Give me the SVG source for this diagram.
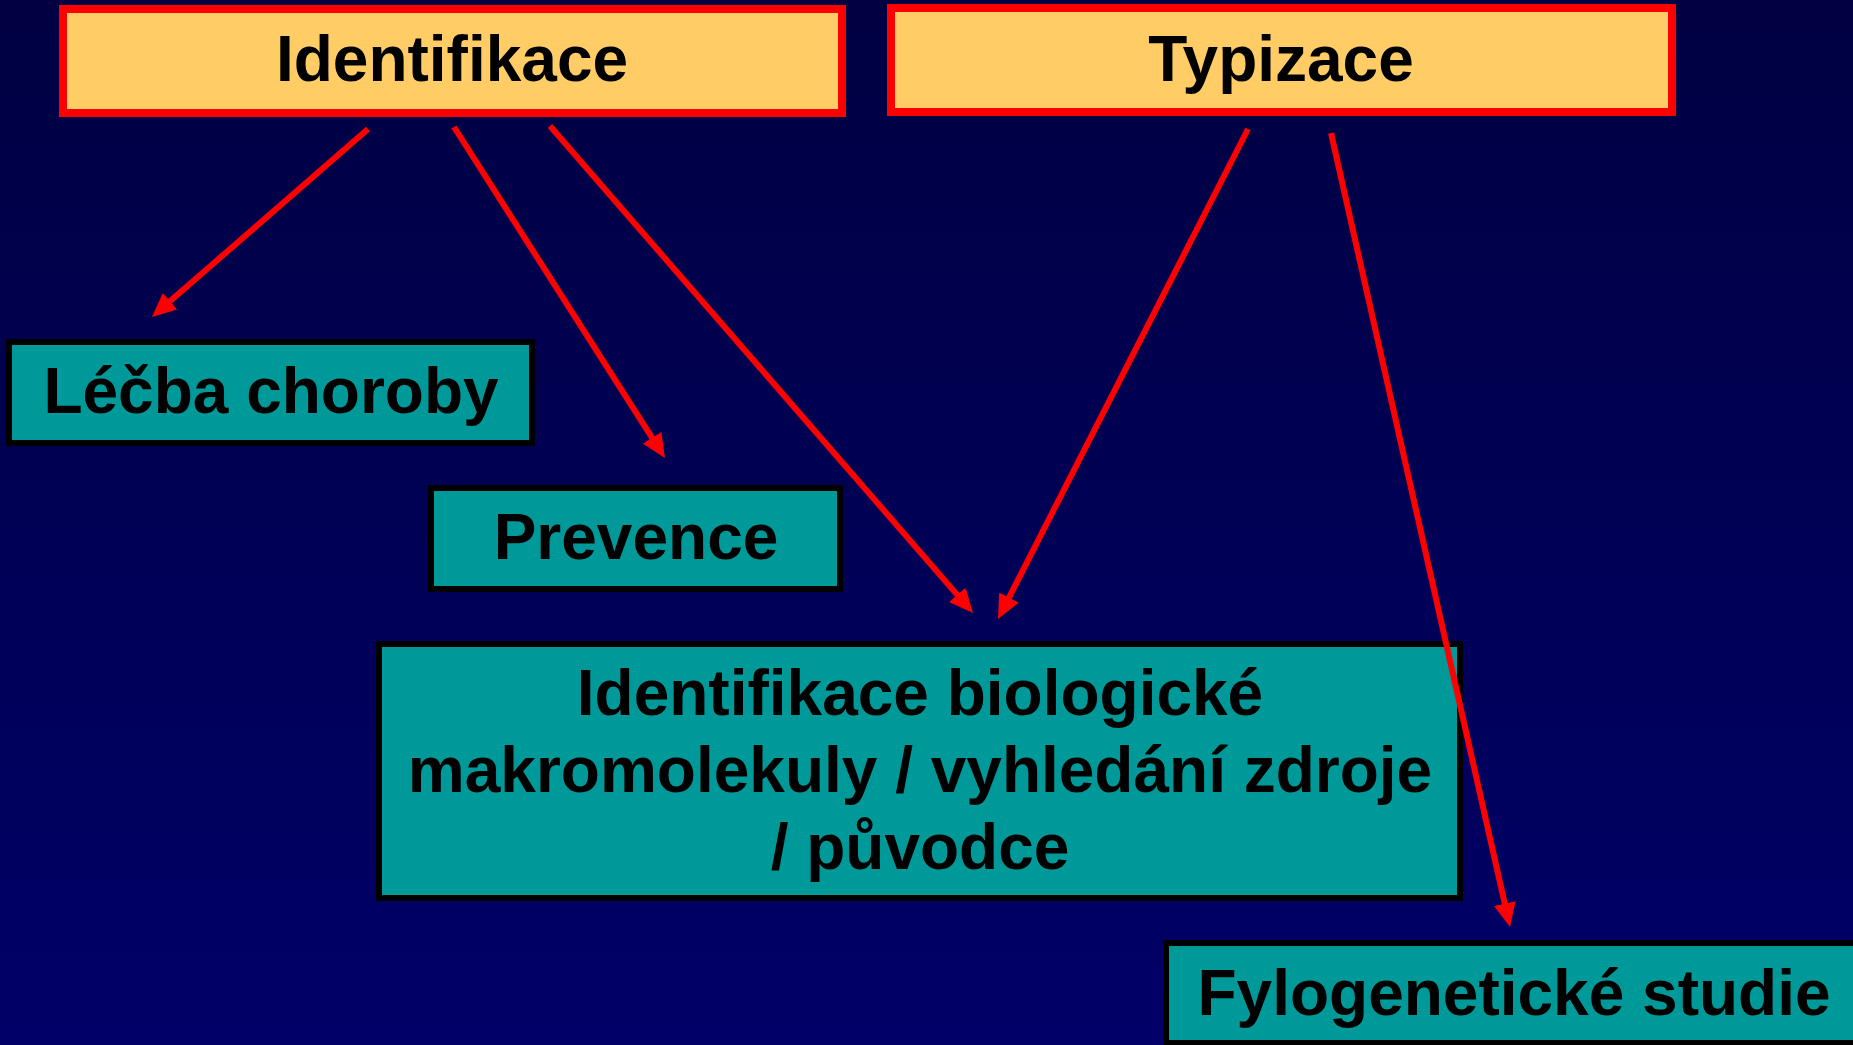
<svg xmlns="http://www.w3.org/2000/svg" width="1853" height="1045" viewBox="0 0 1853 1045">
<defs>
<linearGradient id="bg" x1="0" y1="0" x2="0" y2="1">
<stop offset="0" stop-color="#000042"/>
<stop offset="1" stop-color="#000068"/>
</linearGradient>
<marker id="ah" viewBox="0 0 24 22" markerWidth="24" markerHeight="22" markerUnits="userSpaceOnUse" refX="12" refY="11" orient="auto">
<path d="M0,0 L24,11 L0,22 z" fill="#FF0000"/>
</marker>
<style>
.top{fill:#FFCC66;stroke:#FF0000;stroke-width:8}
.leaf{fill:#009999;stroke:#000000;stroke-width:6}
text{font-family:"Liberation Sans",Arial,sans-serif;font-weight:bold;font-size:64px;fill:#000000;text-anchor:middle}
.conn{stroke:#FF0000;stroke-width:6;fill:none;marker-end:url(#ah)}
</style>
</defs>
<rect x="0" y="0" width="1853" height="1045" fill="url(#bg)"/>
<g id="identifikace"><rect class="top" x="63" y="9" width="779" height="104"/><text x="452" y="81">Identifikace</text></g>
<g id="typizace"><rect class="top" x="891" y="8" width="781" height="104"/><text x="1281" y="81">Typizace</text></g>
<g id="lecba"><rect class="leaf" x="9" y="342" width="523" height="101"/><text x="271" y="413">Léčba choroby</text></g>
<g id="prevence"><rect class="leaf" x="431" y="488" width="409" height="101"/><text x="636" y="559">Prevence</text></g>
<g id="identifikace-bio"><rect class="leaf" x="379" y="644" width="1081" height="254"/><text x="920" y="715">Identifikace biologické</text><text x="920" y="792">makromolekuly / vyhledání zdroje</text><text x="920" y="869">/ původce</text></g>
<g id="fylogeneticke"><rect class="leaf" x="1166" y="943" width="700" height="100"/><text x="1514" y="1015">Fylogenetické studie</text></g>
<g id="connectors">
<line class="conn" x1="368" y1="129" x2="161" y2="309.1"/>
<line class="conn" x1="454" y1="127" x2="658.5" y2="447.9"/>
<line class="conn" x1="550" y1="126" x2="965.1" y2="603.9"/>
<line class="conn" x1="1248" y1="129" x2="1003.5" y2="608.3"/>
<line class="conn" x1="1331" y1="133" x2="1507.4" y2="915.3"/>
</g>
</svg>
